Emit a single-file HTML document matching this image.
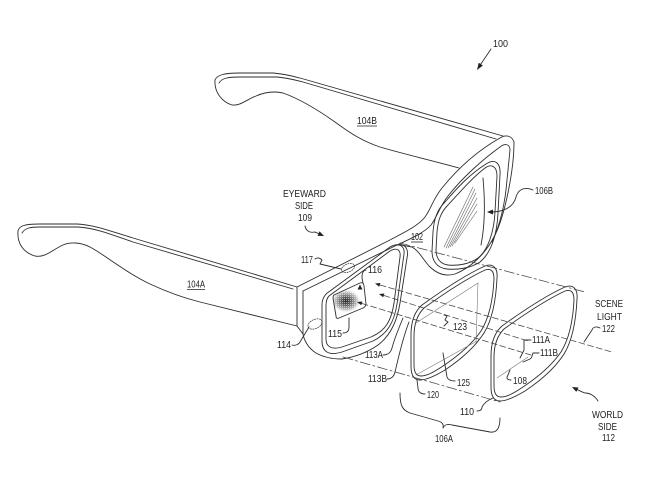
<!DOCTYPE html>
<html><head><meta charset="utf-8"><style>
html,body{margin:0;padding:0;background:#fff;}
svg{display:block;}
text{font-family:"Liberation Sans",Arial,sans-serif;font-size:10.5px;fill:#222;}
</style></head><body>
<svg width="658" height="478" viewBox="0 0 658 478" xmlns="http://www.w3.org/2000/svg">
<defs>
<radialGradient id="g" cx="0.5" cy="0.5" r="0.5">
<stop offset="0" stop-color="#222"/><stop offset="0.35" stop-color="#666"/><stop offset="0.75" stop-color="#c8c8c8"/><stop offset="1" stop-color="#fff" stop-opacity="0"/>
</radialGradient>
<pattern id="dots" width="2" height="2" patternUnits="userSpaceOnUse"><rect x="0" y="0" width="1" height="1" fill="#fff"/></pattern>
<clipPath id="hc"><path d="M334,295 L360,283 C363,282 364,284 364,286 L366,304 C366,306 365,307 363,308 L339,318 C337,319 336,318 336,316 L333,298 C333,297 333,296 334,295 Z"/></clipPath>
</defs>
<g fill="none" stroke="#2e2e2e" stroke-width="0.9" stroke-linecap="round" stroke-linejoin="round">
<!-- Temple 104B -->
<path d="M215,80 C217,75 224,73 240,73 L273,73 C285,74 292,76 300,78 L503,136"/>
<path d="M219,83 C222,78 228,77 240,77 L277,77 C288,78 295,80 303,82 L496,139"/>
<path d="M215,80 C214,92 222,102 232,105 C240,106 246,100 256,96 C265,92 274,91 283,93 C300,99 318,110 335,122 C350,133 362,141 380,147 C400,153 430,160 459,168"/>
<!-- Temple 104A -->
<path d="M18,231 C19,226 24,224 40,224 L77,224 C95,225 110,231 133,238 L297,287"/>
<path d="M22,233 C25,228 30,227 40,227 L78,227 C95,228 110,234 133,242 L293,289"/>
<path d="M18,231 C17,242 22,252 35,256 C45,258 52,250 63,245 C70,242 80,242 90,247 C105,255 125,272 150,284 C165,291 180,297 200,302 L297,326"/>
<path d="M297,287 L297,326 L303,334"/>
<path d="M303,291 L303,334"/>
<!-- Frame top edges -->
<path d="M297,287 L390,240 C405,232 418,226 425,217 C431,209 433,199 442,188 C455,172 475,152 500,138 C506,134 512,136 514,142"/>
<path d="M303,291 L395,246 C410,239 424,233 431,225 C437,217 440,206 448,196 C462,178 482,160 500,147 C505,143 510,144 510,150 L507,180 C505,205 500,225 492,242"/>
<!-- Right side outer + bridge -->
<path d="M514,142 C514,170 505,215 495,235 C485,255 470,268 455,274 C445,277 436,273 429,266 C422,258 419,251 412,247 L401,245"/>
<!-- Left rim -->
<path d="M303,334 C304,340 308,348 316,353 C323,357 332,359 342,359 C355,357 368,352 378,345 C390,336 397,322 400,303 L407,258 C409,249 405,243 397,245"/>
<path d="M330,291 L390,247 C399,242 405,246 404,254 L397,304 C394,323 387,334 373,341 L342,352 C329,356 322,352 322,341 L322,305 C322,298 325,294 330,291 Z"/>
<path d="M329,296 L390,251 C397,247 401,250 400,257 L394,303 C391,322 385,331 371,337 L342,347 C332,350 326,347 326,339 L326,306 C326,301 327,298 329,296 Z"/>
<!-- Right rim 106B -->
<path d="M485,168 C492,163 497,167 497,176 L495,212 C494,232 488,250 478,258 C470,264 458,266 448,265 C440,264 436,258 436,250 L437,232 C438,220 441,212 448,205 C460,192 472,178 485,168 Z"/>
<path d="M486,164 C495,158 501,163 500,175 L498,213 C497,235 491,253 480,262 C471,268 458,270 447,269 C437,268 432,261 432,251 L433,232 C434,219 437,210 445,202 C457,188 470,174 486,164 Z"/>
<path d="M483,178 C485,200 485,225 481,245"/>
<g stroke="#666" stroke-width="0.6">
<path d="M444,247 L473,187"/><path d="M446,248 L475,189"/><path d="M448,248 L476,193"/>
<path d="M450,247 L477,198"/><path d="M452,246 L477,204"/><path d="M455,243 L477,211"/>
</g>
<!-- Display 115 -->
<g clip-path="url(#hc)">
<ellipse cx="346" cy="301" rx="15" ry="12" fill="url(#g)" stroke="none"/>
<rect x="330" y="278" width="40" height="44" fill="url(#dots)" stroke="none" opacity="0.55"/>
</g>
<path d="M334,295 L360,283 C363,282 364,284 364,286 L366,304 C366,306 365,307 363,308 L339,318 C337,319 336,318 336,316 L333,298 C333,297 333,296 334,295 Z"/>
<ellipse cx="348" cy="268" rx="7" ry="4" transform="rotate(-22 348 268)" stroke-dasharray="1.3,1.2" stroke-width="0.7"/>
<ellipse cx="315" cy="324" rx="7.5" ry="4.5" transform="rotate(-25 315 324)" stroke-dasharray="1.3,1.2" stroke-width="0.7"/>
<!-- Lens 106A -->
<g id="lens">
<path d="M485,266 C493,263 498,268 497,278 C496,300 492,320 484,333 C475,347 460,360 445,370 C435,376 426,380 420,380 C413,380 411,374 411,366 L411,335 C411,322 414,312 422,305 C440,292 465,275 485,266 Z"/>
<path d="M485,270 C491,268 494,271 494,279 C493,300 489,318 481,331 C472,344 458,356 443,366 C434,372 427,376 421,376 C416,376 414,372 414,365 L414,336 C414,324 417,315 424,308 C442,295 466,279 485,270 Z"/>
</g>
<use href="#lens" transform="translate(80,21)"/>
<g stroke="#777" stroke-width="0.6">
<path d="M478,283 L416,323"/><path d="M478,283 L476,342"/><path d="M416,375 L477,341"/>
<path d="M497,378 L528,357"/>
</g>
<!-- Dashed lines -->
<g stroke="#444" stroke-width="0.75">
<path d="M400,243 L585,292" stroke-dasharray="10,3,2,3"/>
<path d="M343,357 L500,402" stroke-dasharray="10,3,2,3"/>
<path d="M380,285 L612,352" stroke-dasharray="6,3"/>
<path d="M384,295.5 L528,341" stroke-dasharray="6,3"/>
<path d="M362,303.5 L531,355" stroke-dasharray="6,3"/>
</g>
<!-- Leaders -->
<path d="M491,49 L480.8,64.1"/>
<path d="M305,226 C306,231 310,233 314,232 C316,232 317,233 318.5,233.6"/>
<path d="M598,401 C595,396 590,393 585,393 C582,392 580,391 577.4,389.7"/>
<path d="M533,190 C524,186 518,190 516,197 C514,205 508,211 493,212"/>
<path d="M315,259 C318,257 320,258 322,260 L320,264 L341,269"/>
<path d="M366,270 C362,271 362,275 362,278 L363,283"/>
<path d="M343,333 C348,333 349,330 349,327 L349,318"/>
<path d="M292,345 C296,346 299,344 300,342 L309,327"/>
<path d="M383,355 C388,355 391,352 392,348 C394,340 398,330 403,318"/>
<path d="M387,379 C392,379 394,376 395,372 C398,360 402,340 409,322"/>
<path d="M444,315 L447,316 L445,320 L448,322 L444,326"/>
<path d="M443,353 L447,377 C448,380 451,381 455,381"/>
<path d="M425,394 C421,394 418,392 418,388 L417,380"/>
<path d="M477,411 C480,411 482,410 482,407 C484,403 488,400 493,398"/>
<path d="M511,380 C507,380 506,378 508,375 C509,373 509,372 510,370"/>
<path d="M531,340 L524,340 L524,350 L520,358"/>
<path d="M539,353 L533,353 C532,356 532,358 530,359 L523,362"/>
<path d="M600,328 C596,326 593,327 592,330 L584,342"/>
<path d="M400,393 C400,405 402,410 410,413 L438,421 C442,422 444,424 443,428 C445,424 448,424 452,425 L490,432 C497,433 500,428 500,418"/>
</g>
<!-- Arrowheads -->
<g fill="#222" stroke="none">
<polygon points="477,70 482.9,65.5 478.7,62.7"/>
<polygon points="324,236 317.5,235.9 319.5,231.3"/>
<polygon points="572,387 578.5,387.5 576.3,391.9"/>
<polygon points="487,212 493,209.5 493,214.5"/>
<polygon points="375,283.5 380.4,283 379.2,286.8"/>
<polygon points="379,294 384.4,293.5 383.2,297.3"/>
<polygon points="357,302 362.4,301.5 361.2,305.3"/>
<polygon points="360,284.5 357.5,289.5 362.5,289.5"/>
</g>
<!-- Underlines -->
<g stroke="#222" stroke-width="0.8">
<line x1="357" y1="126" x2="377" y2="126"/>
<line x1="187" y1="289.5" x2="205" y2="289.5"/>
<line x1="411" y1="242" x2="423" y2="242"/>
</g>
<!-- Labels -->
<text x="493" y="47" font-size="12" textLength="15" lengthAdjust="spacingAndGlyphs">100</text>
<text x="357" y="124" textLength="20" lengthAdjust="spacingAndGlyphs">104B</text>
<text x="187" y="287.5" textLength="18" lengthAdjust="spacingAndGlyphs">104A</text>
<text x="283" y="197" textLength="43" lengthAdjust="spacingAndGlyphs">EYEWARD</text>
<text x="295" y="209" textLength="18" lengthAdjust="spacingAndGlyphs">SIDE</text>
<text x="298" y="221" textLength="14" lengthAdjust="spacingAndGlyphs">109</text>
<text x="301" y="263" textLength="12" lengthAdjust="spacingAndGlyphs">117</text>
<text x="368" y="273" textLength="14" lengthAdjust="spacingAndGlyphs">116</text>
<text x="328" y="337" textLength="14" lengthAdjust="spacingAndGlyphs">115</text>
<text x="277" y="348" textLength="14" lengthAdjust="spacingAndGlyphs">114</text>
<text x="411" y="240" textLength="12" lengthAdjust="spacingAndGlyphs">102</text>
<text x="535" y="194" textLength="18" lengthAdjust="spacingAndGlyphs">106B</text>
<text x="365" y="358" textLength="18" lengthAdjust="spacingAndGlyphs">113A</text>
<text x="368" y="382" textLength="19" lengthAdjust="spacingAndGlyphs">113B</text>
<text x="453" y="330" textLength="14" lengthAdjust="spacingAndGlyphs">123</text>
<text x="457" y="386" textLength="13" lengthAdjust="spacingAndGlyphs">125</text>
<text x="427" y="398" textLength="12" lengthAdjust="spacingAndGlyphs">120</text>
<text x="435" y="442" textLength="18" lengthAdjust="spacingAndGlyphs">106A</text>
<text x="460" y="415" textLength="14" lengthAdjust="spacingAndGlyphs">110</text>
<text x="513" y="384" textLength="14" lengthAdjust="spacingAndGlyphs">108</text>
<text x="532" y="343" textLength="18" lengthAdjust="spacingAndGlyphs">111A</text>
<text x="540" y="356" textLength="18" lengthAdjust="spacingAndGlyphs">111B</text>
<text x="595" y="307" textLength="28" lengthAdjust="spacingAndGlyphs">SCENE</text>
<text x="597" y="320" textLength="25" lengthAdjust="spacingAndGlyphs">LIGHT</text>
<text x="602" y="332" textLength="13" lengthAdjust="spacingAndGlyphs">122</text>
<text x="592" y="418" textLength="31" lengthAdjust="spacingAndGlyphs">WORLD</text>
<text x="598" y="430" textLength="19" lengthAdjust="spacingAndGlyphs">SIDE</text>
<text x="602" y="441" textLength="13" lengthAdjust="spacingAndGlyphs">112</text>
</svg>
</body></html>
